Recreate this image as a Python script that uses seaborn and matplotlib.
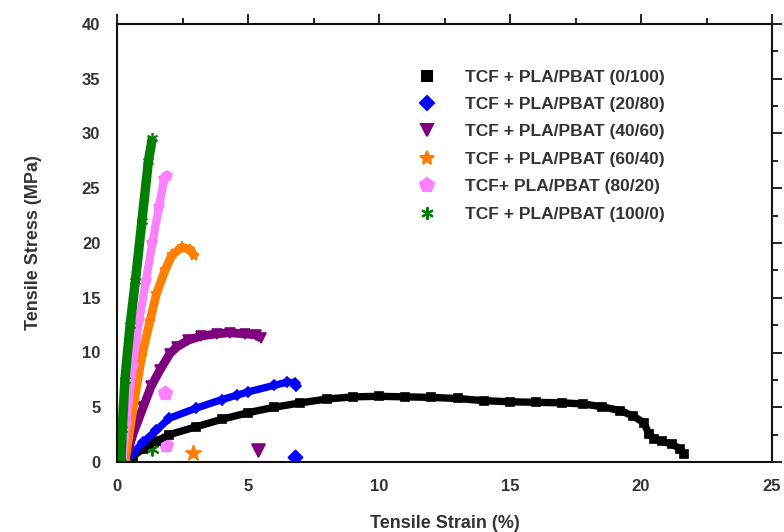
import matplotlib
matplotlib.use("Agg")
import matplotlib.pyplot as plt
from matplotlib.lines import Line2D
from matplotlib.ticker import MultipleLocator
import seaborn as sns

# ---- data ----
labels = ["TCF + PLA/PBAT (0/100)", "TCF + PLA/PBAT (20/80)", "TCF + PLA/PBAT (40/60)",
          "TCF + PLA/PBAT (60/40)", "TCF+ PLA/PBAT (80/20)", "TCF + PLA/PBAT (100/0)"]

black_x = [0.3, 0.6, 1.0, 1.5, 2.0, 3.0, 4.0, 5.0, 6.0, 7.0, 8.0, 9.0, 10.0, 11.0, 12.0, 13.0,
           14.0, 15.0, 16.0, 17.0, 17.8, 18.5, 19.2, 19.7, 20.1, 20.3, 20.5, 20.8, 21.2, 21.5, 21.65]
black_y = [0.0, 0.5, 1.2, 1.9, 2.5, 3.2, 3.9, 4.5, 5.0, 5.4, 5.75, 5.95, 6.0, 5.95, 5.9, 5.8,
           5.6, 5.5, 5.45, 5.4, 5.3, 5.05, 4.7, 4.2, 3.6, 2.6, 2.1, 1.9, 1.6, 1.2, 0.7]

blue_x = [0.3, 0.6, 1.0, 1.5, 2.0, 3.0, 4.0, 4.57, 5.0, 6.0, 6.5, 6.8, 6.85]
blue_y = [0.0, 0.8, 1.8, 2.9, 4.0, 4.9, 5.7, 6.1, 6.4, 7.0, 7.3, 7.2, 6.9]

purple_x = [0.3, 0.62, 1.0, 1.3, 1.64, 2.02, 2.28, 2.7, 3.2, 3.8, 4.3, 4.9, 5.3, 5.5]
purple_y = [0.0, 2.6, 5.0, 6.9, 8.4, 9.9, 10.5, 11.1, 11.5, 11.7, 11.8, 11.7, 11.6, 11.3]

orange_x = [0.3, 0.43, 0.62, 0.94, 1.25, 1.5, 1.83, 2.1, 2.47, 2.8, 2.95]
orange_y = [0.0, 2.0, 5.0, 9.6, 12.8, 15.3, 17.5, 18.9, 19.6, 19.4, 18.8]

pink_x = [0.2, 0.35, 0.6, 0.85, 1.1, 1.35, 1.6, 1.8, 1.9]
pink_y = [0.0, 3.5, 8.8, 13.0, 16.5, 20.0, 23.3, 25.8, 26.1]

green_x = [0.15, 0.2, 0.3, 0.5, 0.7, 0.95, 1.2, 1.35]
green_y = [0.0, 3.0, 7.5, 12.5, 16.5, 22.0, 27.5, 29.6]

# isolated fracture points
drop_blue = ([6.79], [0.5])
drop_purple = ([5.39], [1.1])
drop_orange = ([2.91], [0.8])
drop_pink = ([1.83, 1.87], [6.3, 1.55])
drop_green = ([1.32], [1.16])

x_ticks = [0, 5, 10, 15, 20, 25]
y_ticks = [0, 5, 10, 15, 20, 25, 30, 35, 40]

# ---- style ----
sns.set_theme(style="white")
plt.rcParams["font.family"] = ["Liberation Sans", "DejaVu Sans"]

fig = plt.figure(figsize=(7.84, 5.32), dpi=100)
ax = fig.add_axes([117 / 784, 1 - 462 / 532, (772 - 117) / 784, (462 - 24) / 532])

colors = ["#000000", "#0000FF", "#7F007F", "#FF7F00", "#FF80FF", "#007F00"]
star6 = (6, 2, 0)
# marker, curve marker size, curve line width, drop marker size, drop data
series = [
    (black_x, black_y, "s", 5.5, 5.3, 7, None),
    (blue_x, blue_y, "D", 5.5, 5.3, 7, drop_blue),
    (purple_x, purple_y, "v", 7, 6.3, 9, drop_purple),
    (orange_x, orange_y, "*", 8, 6.3, 11, drop_orange),
    (pink_x, pink_y, "p", 7, 6.0, 10, drop_pink),
    (green_x, green_y, star6, 8, 6.8, 9, drop_green),
]

for (xs, ys, mk, ms, lw, dms, drop), c in zip(series, colors):
    sns.lineplot(x=xs, y=ys, ax=ax, color=c, lw=lw, sort=False, estimator=None,
                 marker=mk, markersize=ms, markeredgecolor=c, markerfacecolor=c,
                 markeredgewidth=1.2, legend=False, solid_capstyle="butt")
    if drop is not None:
        sns.scatterplot(x=drop[0], y=drop[1], ax=ax, color=c, marker=mk,
                        s=dms * dms, edgecolor=c, linewidth=1.5, legend=False)

ax.set_xlim(0, 25)
ax.set_ylim(0, 40)
ax.set_xticks(x_ticks)
ax.set_yticks(y_ticks)
ax.xaxis.set_minor_locator(MultipleLocator(2.5))
ax.yaxis.set_minor_locator(MultipleLocator(2.5))

for s in ax.spines.values():
    s.set_visible(True)
    s.set_color("#111111")
    s.set_linewidth(1.5)

ax.tick_params(which="both", direction="out", top=True, right=True,
               labeltop=False, labelright=False, color="#111111", width=1.3)
ax.tick_params(which="major", length=7, labelsize=12, labelcolor="#333333", pad=5)
ax.tick_params(which="minor", length=4)
for lab in ax.get_xticklabels() + ax.get_yticklabels():
    lab.set_fontweight("bold")

ax.set_xlabel("Tensile Strain (%)", fontsize=13, color="#333333", labelpad=15,
              fontweight="bold")
ax.set_ylabel("Tensile Stress (MPa)", fontsize=13, color="#333333", labelpad=29,
              fontweight="bold")

handles = []
legend_ms = [7, 7, 9, 10, 10, 9]
for (xs, ys, mk, ms, lw, dms, drop), c, lms in zip(series, colors, legend_ms):
    handles.append(Line2D([], [], linestyle="none", marker=mk, color=c,
                          markerfacecolor=c, markeredgecolor=c, markersize=lms,
                          markeredgewidth=1.5))
leg = ax.legend(handles, labels, loc="upper left", bbox_to_anchor=(0.46, 0.896),
                frameon=False, handlelength=1.0, handletextpad=1.7,
                labelspacing=0.705, borderpad=0, borderaxespad=0,
                prop={"weight": "bold", "size": 12.5})
for t in leg.get_texts():
    t.set_color("#333333")

fig.savefig("out.png", dpi=100)
